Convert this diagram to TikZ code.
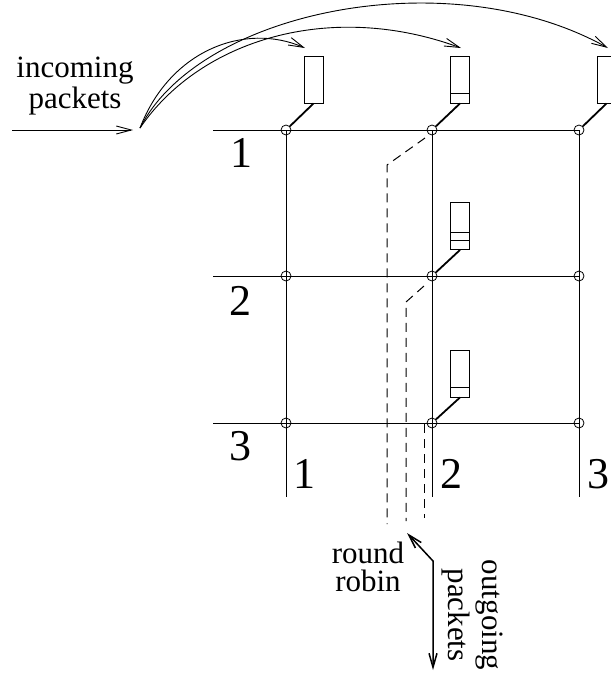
\documentclass[tikz,border=0pt]{standalone}
\usepackage{fontspec}
\setmainfont{Liberation Serif}
\usetikzlibrary{arrows.meta,calc}

\newcommand{\txtfont}{\fontsize{31}{31}\selectfont}
\newcommand{\numfont}{\fontsize{44}{44}\selectfont}

\begin{document}
\begin{tikzpicture}[x=1pt,y=-1pt]
	\tikzset{xpoint/.style = {draw,circle,inner sep=0pt,minimum size=10pt,line width=.8pt}}
	\tikzset{buffer/.style = {draw,rectangle,inner sep=0pt,minimum width=19pt,minimum height=47pt,line width=.9pt}}
	\tikzset{wire/.style = {line width=1pt}}
	\tikzset{switch/.style = {line width=1.8pt}}
	\tikzset{rr/.style = {line width=1pt,dash pattern=on 9pt off 6pt}}
	\tikzset{pkt/.style = {line width=.9pt,-{Straight Barb[length=15pt,width=8pt]}}}
	\tikzset{txt/.style = {font=\txtfont,align=center,inner sep=0pt}}
	\useasboundingbox (0,0) rectangle (611,673);

	% crosspoints
	\node[xpoint] (x11) at (286,130) {};
	\node[xpoint] (x12) at (432,130) {};
	\node[xpoint] (x13) at (579,130) {};
	\node[xpoint] (x21) at (286,276) {};
	\node[xpoint] (x22) at (432,276) {};
	\node[xpoint] (x23) at (579,276) {};
	\node[xpoint] (x31) at (286,423) {};
	\node[xpoint] (x32) at (432,423) {};
	\node[xpoint] (x33) at (579,423) {};
	\coordinate (r1) at (213,130);
	\coordinate (r2) at (213,276);
	\coordinate (r3) at (213,423);
	\coordinate (c1) at (286,497);
	\coordinate (c2) at (432,497);
	\coordinate (c3) at (579,497);

	% buffers
	\node[buffer] (b11) at (313.5,79.5) {};
	\node[buffer] (b12) at (460,79.5) {};
	\node[buffer] (b13) at (606.5,79.5) {};
	\node[buffer] (b22) at (460,226) {};
	\node[buffer] (b32) at (460,373.5) {};
	\draw[line width=.9pt] ($(b12.south west)+(0,-10)$) -- ($(b12.south east)+(0,-10)$);
	\draw[line width=.9pt] ($(b22.south west)+(0,-10)$) -- ($(b22.south east)+(0,-10)$);
	\draw[line width=.9pt] ($(b22.south west)+(0,-18)$) -- ($(b22.south east)+(0,-18)$);
	\draw[line width=.9pt] ($(b32.south west)+(0,-10)$) -- ($(b32.south east)+(0,-10)$);

	% labels
	\node[txt] (in) at (75,86) {incoming\\packets};
	\node (row1) at (241,153) {\numfont 1};
	\node (row2) at (240,301) {\numfont 2};
	\node (row3) at (240,446) {\numfont 3};
	\node (col1) at (304,474) {\numfont 1};
	\node (col2) at (451,474) {\numfont 2};
	\node (col3) at (598,474) {\numfont 3};
	\node[txt,font=\fontsize{31}{28}\selectfont] (rrtext) at (368,567) {round\\robin};
	\node[txt,font=\fontsize{31}{34}\selectfont,rotate=-90] (out) at (472,615) {outgoing\\packets};

	% grid
	\draw[wire] (r1) -- (x13.center);
	\draw[wire] (r2) -- (x23.center);
	\draw[wire] (r3) -- (x33.center);
	\draw[wire] (x11.center) -- (c1);
	\draw[wire] (x12.center) -- (c2);
	\draw[wire] (x13.center) -- (c3);

	% switches
	\draw[switch] (b11.south) -- (x11);
	\draw[switch] (b12.south) -- (x12);
	\draw[switch] (b13.south) -- (x13);
	\draw[switch] (b22.south) -- (x22);
	\draw[switch] (b32.south) -- (x32);

	% round robin
	\coordinate (d1) at (425,138);
	\coordinate (d1b) at (387,165);
	\coordinate (d1e) at (387,524);
	\coordinate (d2) at (424,286);
	\coordinate (d2b) at (406,302);
	\coordinate (d2e) at (406,521);
	\coordinate (d3) at (424,424);
	\coordinate (d3e) at (424,518);
	\draw[rr] (d1) -- (d1b) -- (d1e);
	\draw[rr] (d2) -- (d2b) -- (d2e);
	\draw[rr] (d3) -- (d3e);
	\coordinate (rrtip) at (407,533);
	\coordinate (rrbend) at (433,561);
	\coordinate (outtip) at (433,670);
	\draw[line width=1.5pt,{Straight Barb[length=14pt,width=8pt]}-{Straight Barb[length=14pt,width=8pt]}] (rrtip) -- (rrbend) -- (outtip);

	% incoming packets
	\coordinate (inarrow) at (12,130);
	\coordinate (fan) at (140,128);
	\draw[pkt] (inarrow) -- (133,130);
	\draw[pkt] (fan) .. controls (170,50) and (245,22) .. (305,48);
	\draw[pkt] (fan) .. controls (200,40) and (330,0) .. (461,48);
	\draw[pkt] (fan) .. controls (200,10) and (450,-40) .. (608,48);
\end{tikzpicture}
\end{document}
